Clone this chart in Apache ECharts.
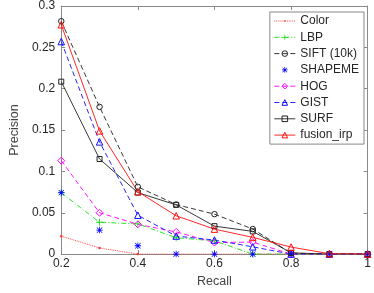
<!DOCTYPE html>
<html><head><meta charset="utf-8">
<script src="https://cdn.jsdelivr.net/npm/echarts@6/dist/echarts.min.js"></script>
<style>html,body{margin:0;padding:0;background:#fff}#c{width:374px;height:293px}</style>
</head><body><div id="c"></div>
<script>
const recall = [0.2, 0.3, 0.4, 0.5, 0.6, 0.7, 0.8, 0.9, 1.0];
const colorVals   = [0.0217, 0.0074, 0, 0, 0, 0, 0, 0, 0];
const lbpVals     = [0.074, 0.0385, 0.0365, 0.0198, 0.016, 0, 0, 0, 0];
const siftVals    = [0.2816, 0.178, 0.0813, 0.0599, 0.0483, 0.0303, 0.0012, 0, 0];
const shapemeVals = [0.0743, 0.029, 0.0101, 0, 0, 0, 0, 0, 0];
const hogVals     = [0.113, 0.050, 0.036, 0.0268, 0.014, 0.0145, 0, 0, 0];
const gistVals    = [0.257, 0.1357, 0.047, 0.0218, 0.017, 0.0088, 0, 0, 0];
const surfVals    = [0.2085, 0.115, 0.0743, 0.0595, 0.0338, 0.0275, 0.0015, 0, 0];
const fusionVals  = [0.2773, 0.149, 0.0755, 0.0463, 0.0302, 0.0202, 0.0085, 0.0005, 0];
const seriesNames = ['Color', 'LBP', 'SIFT (10k)', 'SHAPEME', 'HOG', 'GIST', 'SURF', 'fusion_irp'];
const yTicks = [0, 0.05, 0.1, 0.15, 0.2, 0.25, 0.3];

const DOT  = 'path://M0,0Z M10,10Z M3.6,5a1.4,1.4 0 1,0 2.8,0a1.4,1.4 0 1,0 -2.8,0Z';
const PLUS = 'path://M4.4,0H5.6V4.4H10V5.6H5.6V10H4.4V5.6H0V4.4H4.4Z';
const STAR = 'path://M4.4,0H5.6V10H4.4Z M0,4.4H10V5.6H0Z M1.3,0.5L9.5,8.7L8.7,9.5L0.5,1.3Z M8.7,0.5L9.5,1.3L1.3,9.5L0.5,8.7Z';
const CLEAR = 'rgba(255,255,255,0)';

const styles = {
  'Color':      { color: '#ff3030', type: 'dotted',     symbol: DOT,        size: 9,   hollow: false },
  'LBP':        { color: '#10e010', type: [5, 2, 1, 2], symbol: PLUS,       size: 7,   hollow: false },
  'SIFT (10k)': { color: '#222222', type: [5, 3],       symbol: 'circle',   size: 5.5, hollow: true },
  'SHAPEME':    { color: '#0000ff', type: 'solid',      symbol: STAR,       size: 6.5, hollow: false, noLine: true },
  'HOG':        { color: '#ff00ff', type: [5, 3],       symbol: 'diamond',  size: 7,   hollow: true },
  'GIST':       { color: '#1010ff', type: [5, 3],       symbol: 'triangle', size: 6.5, hollow: true },
  'SURF':       { color: '#222222', type: 'solid',      symbol: 'rect',     size: 5,   hollow: true },
  'fusion_irp': { color: '#ff1010', type: 'solid',      symbol: 'triangle', size: 6.5, hollow: true }
};
const valuesByName = {
  'Color': colorVals, 'LBP': lbpVals, 'SIFT (10k)': siftVals, 'SHAPEME': shapemeVals,
  'HOG': hogVals, 'GIST': gistVals, 'SURF': surfVals, 'fusion_irp': fusionVals
};

function itemStyleOf(s) {
  return s.hollow ? { color: CLEAR, borderColor: s.color, borderWidth: 1 }
                  : { color: s.color, borderColor: s.color, borderWidth: 0 };
}
function lineStyleOf(s) {
  return s.noLine ? { width: 0, opacity: 0, color: s.color }
                  : { color: s.color, width: 0.9, type: s.type };
}

const series = seriesNames.map(name => {
  const s = styles[name];
  return {
    name: name, type: 'line', data: valuesByName[name].map((v, i) => [recall[i], v]),
    symbol: s.symbol, symbolSize: s.size, showAllSymbol: true,
    lineStyle: lineStyleOf(s), itemStyle: itemStyleOf(s),
    emphasis: { disabled: true }, animation: false, z: 3
  };
});
const legendData = seriesNames.map(name => {
  const s = styles[name];
  return { name: name, itemStyle: itemStyleOf(s), lineStyle: lineStyleOf(s) };
});

const chart = echarts.init(document.getElementById('c'), null, { renderer: 'canvas' });
const axisCol = '#8a8a8a';
const txtCol = '#262626';
const font = '"Liberation Sans", Arial, sans-serif';
chart.setOption({
  animation: false,
  backgroundColor: '#fff',
  grid: { left: 44, right: 4, top: 5, bottom: 31, containLabel: false },
  legend: {
    orient: 'vertical', right: 10, top: 12,
    padding: [2, 5, 2, 4], itemGap: 2.3, itemWidth: 21, itemHeight: 7,
    backgroundColor: '#fff', borderColor: '#888', borderWidth: 1,
    textStyle: { fontFamily: font, fontSize: 12, color: txtCol, lineHeight: 14 },
    data: legendData
  },
  xAxis: [{
    type: 'value', min: 0.2, max: 1, interval: 0.2,
    name: 'Recall', nameLocation: 'middle', nameGap: 20,
    nameTextStyle: { fontFamily: font, fontSize: 12.5, color: '#444' },
    axisLine: { onZero: false, lineStyle: { color: axisCol, width: 1 } },
    axisTick: { inside: true, length: 4, lineStyle: { color: axisCol } },
    axisLabel: { fontFamily: font, fontSize: 12, color: txtCol, margin: 4,
      formatter: v => (Math.round(v * 10) / 10).toString() },
    splitLine: { show: false }
  }, {
    type: 'value', min: 0.2, max: 1, interval: 0.2, position: 'top',
    axisLine: { onZero: false, lineStyle: { color: axisCol, width: 1 } },
    axisTick: { inside: true, length: 4, lineStyle: { color: axisCol } },
    axisLabel: { show: false }, splitLine: { show: false }
  }],
  yAxis: [{
    type: 'value', min: 0, max: 0.3, interval: 0.05,
    name: 'Precision', nameLocation: 'middle', nameGap: 32, nameRotate: 90,
    nameTextStyle: { fontFamily: font, fontSize: 12.5, color: '#444' },
    axisLine: { show: true, onZero: false, lineStyle: { color: axisCol, width: 1 } },
    axisTick: { show: true, inside: true, length: 4, lineStyle: { color: axisCol } },
    axisLabel: { fontFamily: font, fontSize: 12, color: txtCol, margin: 6,
      formatter: v => yTicks.reduce((a, t) => Math.abs(t - v) < 1e-6 ? t.toString() : a, '') },
    splitLine: { show: false }
  }, {
    type: 'value', min: 0, max: 0.3, interval: 0.05, position: 'right',
    axisLine: { show: true, onZero: false, lineStyle: { color: axisCol, width: 1 } },
    axisTick: { show: true, inside: true, length: 4, lineStyle: { color: axisCol } },
    axisLabel: { show: false }, splitLine: { show: false }
  }],
  series: series
});
</script></body></html>
